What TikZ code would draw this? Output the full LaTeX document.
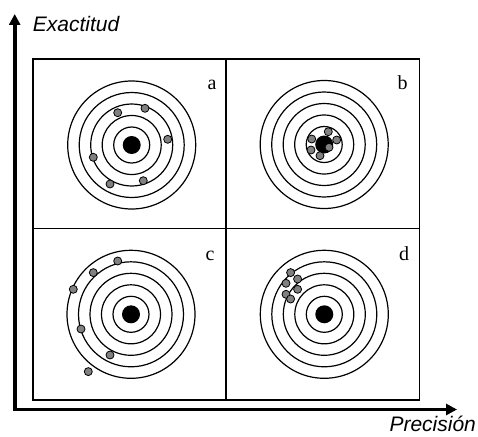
\documentclass[tikz,border=0pt]{standalone}
\usepackage{fontspec}
\setmainfont{Liberation Serif}
\newfontfamily\axisfont{Liberation Sans}
\usetikzlibrary{arrows.meta}
\definecolor{cshot}{gray}{0.5}

\begin{document}
\begin{tikzpicture}[x=1pt, y=-1pt,
    ring/.style={draw, line width=1.2pt},
    shot/.style={draw, circle, fill=cshot, line width=0.8pt, minimum size=8pt, inner sep=0pt},
    tag/.style={anchor=base, font=\fontsize{20}{24}\selectfont},
    axis/.style={line width=3.6pt, {Triangle[length=11pt,width=11pt]}-{Triangle[length=11pt,width=11pt]}},
    axlabel/.style={anchor=base west, font=\axisfont\itshape\fontsize{21}{25}\selectfont}
]
\useasboundingbox (0,0) rectangle (478,436);
% axes
\coordinate (ytip) at (14.7,14);
\coordinate (o) at (14.7,409.5);
\coordinate (xtip) at (457,409.5);
\draw[axis] (ytip) -- (o) -- (xtip);
\node[axlabel] (ylab) at (29.3,31.7) {Exactitud};
\node[axlabel] (xlab) at (386,431.7) {Precisión};
% frame
\draw[ring] (33,59) rectangle (419.5,400);
\draw[ring] (226,59) -- (226,400);
\draw[ring] (33,228.5) -- (419.5,228.5);
% targets
\foreach \c/\x/\y in {a/131.7/145, b/324.2/144.5, c/131/314.3, d/324.3/314.3}{
  \coordinate (t\c) at (\x,\y);
  \foreach \r in {18,29.5,41,52.5,64}
    \draw[ring] (t\c) circle (\r);
  \fill (t\c) circle (9);
}
\node[tag] (la) at (212,89.3) {a};
\node[tag] (lb) at (402.7,89.3) {b};
\node[tag] (lc) at (210,260) {c};
\node[tag] (ld) at (404,260.5) {d};
% shots
\foreach \n/\x/\y in {a1/117.7/112.7, a2/145/108.3, a3/167.7/139.3, a4/93.3/157.3, a5/110/184, a6/143.3/180.7,
    b1/328.3/131.7, b2/336.7/140, b3/311.7/139, b4/311/150, b5/329/147.3, b6/320/155.7,
    c1/117.7/261, c2/93.3/272.6, c3/73.3/289.3, c4/81/329, c5/110/355, c6/88.3/371.6,
    d1/290.6/272.6, d2/297.6/279, d3/286/283.3, d4/297.6/289.3, d5/286/294.3, d6/290.6/299}
  \node[shot] (s\n) at (\x,\y) {};
\end{tikzpicture}
\end{document}
